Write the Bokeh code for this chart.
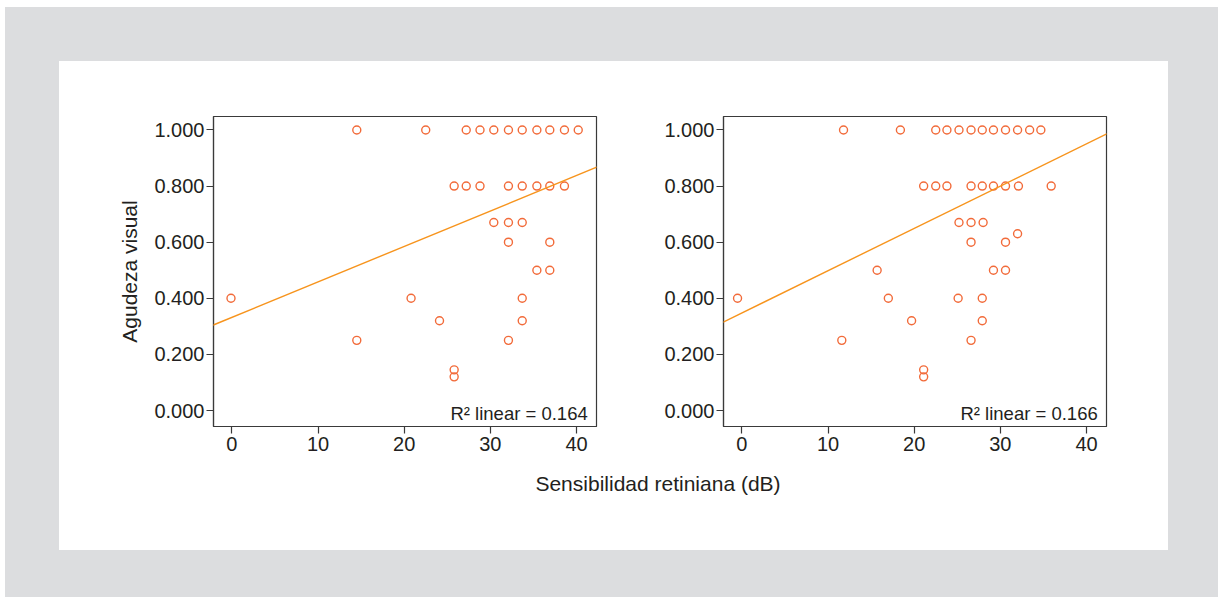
from bokeh.plotting import figure
from bokeh.models import Range1d, FixedTicker, NumeralTickFormatter, Slope, Label, Div, Spacer
from bokeh.layouts import row, column
from bokeh.embed import file_html
from bokeh.resources import INLINE

# ---------------- data ----------------
x_ticks = [0, 10, 20, 30, 40]
y_ticks = [0.0, 0.2, 0.4, 0.6, 0.8, 1.0]

# Left panel
sens_left = [14.5, 22.5, 27.2, 28.8, 30.4, 32.1, 33.7, 35.4, 36.9, 38.6, 40.2,
             25.8, 27.2, 28.8, 32.1, 33.7, 35.4, 36.9, 38.6,
             30.4, 32.1, 33.7,
             32.1, 36.9,
             35.4, 36.9,
             -0.1, 20.8, 33.7,
             24.1, 33.7,
             14.5, 32.1,
             25.8, 25.8]
acuity_left = [1.0, 1.0, 1.0, 1.0, 1.0, 1.0, 1.0, 1.0, 1.0, 1.0, 1.0,
               0.8, 0.8, 0.8, 0.8, 0.8, 0.8, 0.8, 0.8,
               0.67, 0.67, 0.67,
               0.6, 0.6,
               0.5, 0.5,
               0.4, 0.4, 0.4,
               0.32, 0.32,
               0.25, 0.25,
               0.145, 0.12]
fit_left_slope = 0.01264
fit_left_intercept = 0.332
r2_left = "R\u00b2 linear = 0.164"

# Right panel
sens_right = [11.8, 18.4, 22.5, 23.8, 25.2, 26.6, 27.9, 29.2, 30.6, 32.0, 33.4, 34.7,
              21.1, 22.5, 23.8, 26.6, 27.9, 29.2, 30.6, 32.1, 35.9,
              25.2, 26.6, 28.0,
              32.0,
              26.6, 30.6,
              15.7, 29.2, 30.6,
              -0.5, 17.0, 25.1, 27.9,
              19.7, 27.9,
              11.6, 26.6,
              21.1, 21.1]
acuity_right = [1.0, 1.0, 1.0, 1.0, 1.0, 1.0, 1.0, 1.0, 1.0, 1.0, 1.0, 1.0,
                0.8, 0.8, 0.8, 0.8, 0.8, 0.8, 0.8, 0.8, 0.8,
                0.67, 0.67, 0.67,
                0.63,
                0.6, 0.6,
                0.5, 0.5, 0.5,
                0.4, 0.4, 0.4, 0.4,
                0.32, 0.32,
                0.25, 0.25,
                0.145, 0.12]
fit_right_slope = 0.01508
fit_right_intercept = 0.3475
r2_right = "R\u00b2 linear = 0.166"

y_label = "Agudeza visual"
x_label = "Sensibilidad retiniana (dB)"

# ---------------- styling ----------------
FONT = "Liberation Sans"
TEXT = "#231f20"
AXIS = "#3a3a3a"
MARK = "#f26b3a"
LINE = "#f7941d"
GREY = "#dcdddf"


def make_panel(xs, ys, slope, intercept, r2, width, left, right, ylab):
    p = figure(width=width, height=401,
               x_range=Range1d(-2.13, 42.32), y_range=Range1d(-0.057, 1.048),
               output_backend="svg", toolbar_location=None,
               min_border_left=left, min_border_right=right,
               min_border_top=55, min_border_bottom=36,
               background_fill_color="white", border_fill_color="white",
               outline_line_color=AXIS, outline_line_width=1.2)
    p.grid.visible = False

    p.xaxis.ticker = FixedTicker(ticks=x_ticks)
    p.yaxis.ticker = FixedTicker(ticks=y_ticks)
    p.yaxis.formatter = NumeralTickFormatter(format="0.000")
    for ax in (p.xaxis[0], p.yaxis[0]):
        ax.axis_line_color = AXIS
        ax.axis_line_width = 1.2
        ax.major_tick_line_color = AXIS
        ax.major_tick_line_width = 1.2
        ax.major_tick_out = 7
        ax.major_tick_in = 0
        ax.minor_tick_line_color = None
        ax.major_label_text_font = FONT
        ax.major_label_text_font_size = "20px"
        ax.major_label_text_color = TEXT
    p.xaxis.major_label_standoff = 3
    p.yaxis.major_label_standoff = 2
    if ylab:
        p.yaxis.axis_label = ylab
        p.yaxis.axis_label_text_font = FONT
        p.yaxis.axis_label_text_font_size = "21px"
        p.yaxis.axis_label_text_font_style = "normal"
        p.yaxis.axis_label_text_color = TEXT
        p.yaxis.axis_label_standoff = 10

    p.add_layout(Slope(gradient=slope, y_intercept=intercept,
                       line_color=LINE, line_width=1.4))
    p.scatter(xs, ys, marker="circle", size=8, fill_color=None,
              line_color=MARK, line_width=1.4)
    p.add_layout(Label(x=41.3, y=-0.009, text=r2, text_align="right",
                       text_baseline="alphabetic", text_font=FONT,
                       text_font_size="18.5px", text_color=TEXT))
    return p


p1 = make_panel(sens_left, acuity_left, fit_left_slope, fit_left_intercept,
                r2_left, 581, 154, 44, y_label)
p2 = make_panel(sens_right, acuity_right, fit_right_slope, fit_right_intercept,
                r2_right, 528, 83, 62, None)

xdiv = Div(text=('<div style="width:1020px;text-align:center;padding-top:10px;'
                 "font-family:'Liberation Sans';font-size:21px;line-height:24px;"
                 'color:%s;">%s</div>' % (TEXT, x_label)),
           width=1020, height=88, margin=0,
           styles={"background-color": "white"})
xlabel_row = row(Spacer(width=89, height=88, styles={"background-color": "white"}),
                 xdiv, spacing=0)

inner = column(row(p1, p2, spacing=0), xlabel_row, spacing=0,
               styles={"background-color": "white"})
grey_block = column(
    Spacer(width=1213, height=54, styles={"background-color": GREY}),
    row(Spacer(width=54, height=489, styles={"background-color": GREY}),
        inner,
        Spacer(width=50, height=489, styles={"background-color": GREY}),
        spacing=0),
    Spacer(width=1213, height=47, styles={"background-color": GREY}),
    spacing=0,
)
page = column(
    Spacer(width=1218, height=7),
    row(Spacer(width=5, height=590), grey_block, spacing=0),
    spacing=0,
)

open("out.html", "w").write(file_html(page, INLINE))
